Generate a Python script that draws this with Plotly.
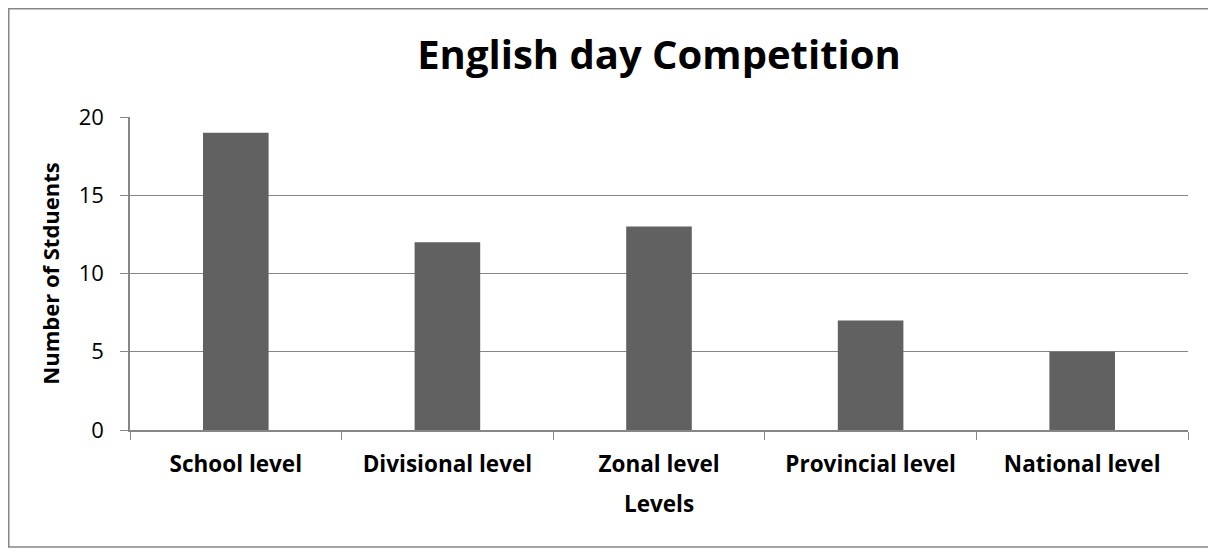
import plotly.graph_objects as go

categories = ["School level", "Divisional level", "Zonal level", "Provincial level", "National level"]
values = [19, 12, 13, 7, 5]
y_ticks = [0, 5, 10, 15, 20]

# page has an 8px body margin; figure is sized to fit the 1216x550 window
W, H = 1208, 542
L, R, T, B = 122, 28, 109, 120
pw, ph = W - L - R, H - T - B

def px_x(px):
    return (px - L) / pw

def px_y(py):
    return (H - B - py) / ph

font = "Open Sans"
fig = go.Figure(go.Bar(x=categories, y=values, marker=dict(color="#616161", line=dict(width=0)), width=0.31))

fig.update_layout(
    width=W, height=H,
    margin=dict(l=L, r=R, t=T, b=B),
    paper_bgcolor="white", plot_bgcolor="white",
    title=dict(text="<b>English day Competition</b>", x=(L + pw / 2) / W, xanchor="center", y=1 - 47 / H, yanchor="middle",
               font=dict(family=font, size=40, color="black")),
    showlegend=False,
    font=dict(family=font, color="black"),
    xaxis=dict(
        tickson="boundaries", ticks="outside", ticklen=8, tickcolor="#868686",
        showline=True, linecolor="#868686", linewidth=1.5,
        tickfont=dict(family=font, size=22.5, color="black"),
        tickvals=categories, ticktext=[f"<b>{c}</b>" for c in categories],
        ticklabelstandoff=13,
        title=dict(text="<b>Levels</b>", font=dict(family=font, size=22.5, color="black"), standoff=18),
        showgrid=False,
    ),
    yaxis=dict(
        range=[0, 20], tickvals=y_ticks,
        ticks="outside", ticklen=8, tickcolor="#868686",
        showline=True, linecolor="#868686", linewidth=1.5,
        showgrid=True, gridcolor="#868686", gridwidth=1,
        zeroline=False,
        ticklabelstandoff=12,
        tickfont=dict(family=font, size=22, color="black"),
        title=dict(text="<b>Number of Stduents</b>", font=dict(family=font, size=22, color="black"), standoff=13),
    ),
    shapes=[dict(type="rect", xref="paper", yref="paper",
                 x0=px_x(0.75), x1=px_x(1203), y0=px_y(539), y1=px_y(0.75),
                 line=dict(color="#868686", width=1.5), layer="below")],
)

fig.write_html("out.html")
